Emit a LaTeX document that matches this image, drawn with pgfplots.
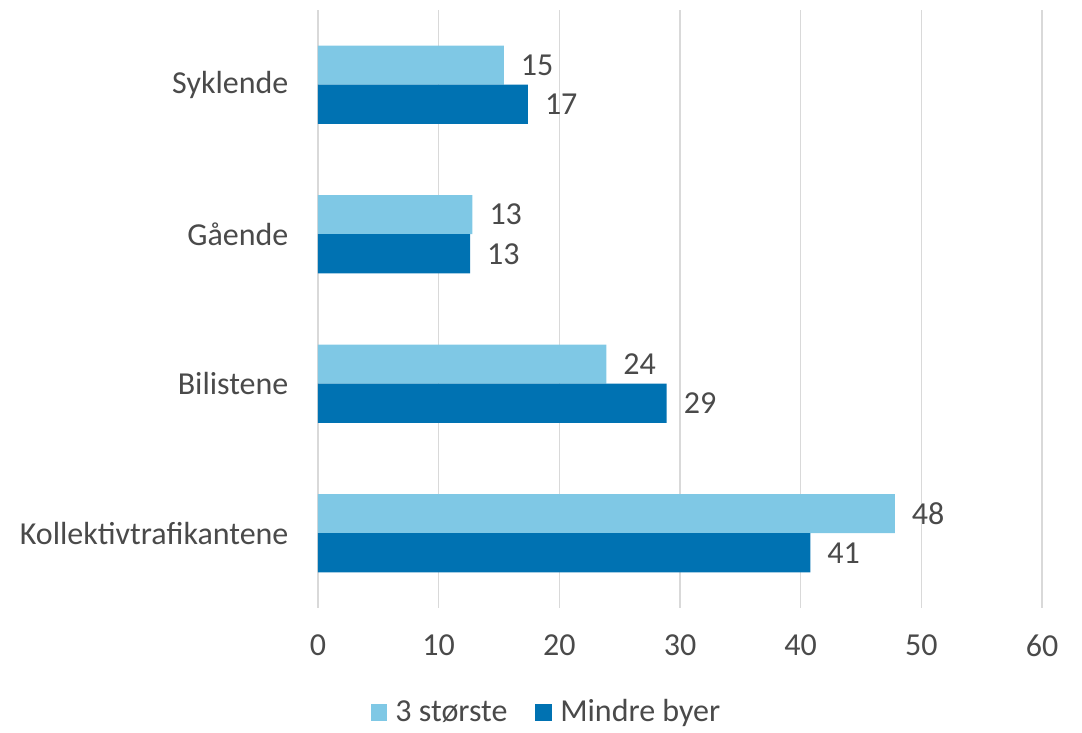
\documentclass[border=0pt]{standalone}
\usepackage{fontspec}
\setmainfont{Carlito}
\usepackage{pgfplots}
\pgfplotsset{compat=1.18}
\definecolor{lightb}{HTML}{7FC8E5}
\definecolor{darkb}{HTML}{0072B2}
\definecolor{txt}{HTML}{4A4A4A}
\definecolor{gridc}{HTML}{D9D9D9}
\begin{document}
\begin{tikzpicture}[x=0.5pt,y=0.5pt]
\begin{axis}[
    name=ax,
    scale only axis,
    width=362pt, height=299pt,
    xbar, bar width=0.262,
    xmin=0, xmax=60, ymin=-0.5, ymax=3.5,
    xtick={0,10,...,60},
    ytick={0,1,2,3},
    yticklabels={Kollektivtrafikantene,Bilistene,Gående,Syklende},
    axis line style={draw=none},
    tick style={draw=none},
    xmajorgrids, ymajorgrids=false,
    major grid style={draw=gridc, line width=0.8pt},
    font=\fontsize{16pt}{19pt}\selectfont,
    ticklabel style={text=txt},
    yticklabel style={xshift=-7pt},
    xticklabel style={yshift=-10pt},
    /pgf/number format/assume math mode=true,
    nodes near coords,
    nodes near coords style={text=txt, font=\fontsize{16pt}{19pt}\selectfont, xshift=5pt,
      /pgf/number format/.cd, fixed, precision=0},
    legend style={at={(0.317,-0.139)}, anchor=north, draw=none, text=txt,
      legend columns=2, font=\fontsize{16pt}{19pt}\selectfont,
      /tikz/every odd column/.append style={column sep=2pt},
      /tikz/every even column/.append style={column sep=12pt}},
    legend image code/.code={\fill[#1] (0,-4.2pt) rectangle (8.4pt,4.2pt);},
]
\addplot[fill=lightb, draw=none, bar shift=0.131] coordinates {(47.8,0) (23.9,1) (12.8,2) (15.4,3)};
\addplot[fill=darkb, draw=none, bar shift=-0.131] coordinates {(40.8,0) (28.9,1) (12.6,2) (17.4,3)};
\legend{3 største, Mindre byer}
\end{axis}
\path (ax.south west) ++(-318,-118) coordinate (bl);
\path (ax.north east) ++(40,10) coordinate (tr);
\path (bl) (tr);
\end{tikzpicture}
\end{document}
